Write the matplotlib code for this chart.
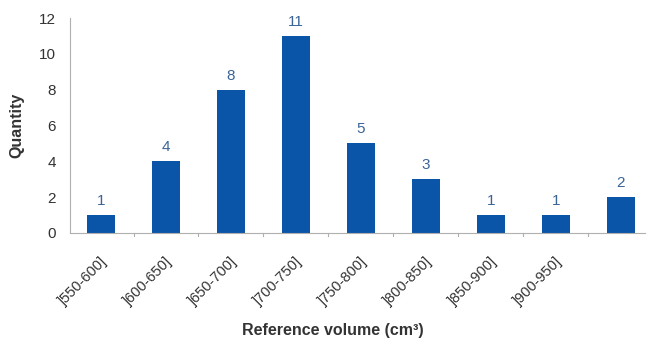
import matplotlib.pyplot as plt

# Histogram of reference volumes
categories = ["]550-600]", "]600-650]", "]650-700]", "]700-750]", "]750-800]",
              "]800-850]", "]850-900]", "]900-950]", ""]
quantities = [1, 4, 8, 11, 5, 3, 1, 1, 2]
yticks = [0, 2, 4, 6, 8, 10, 12]

BAR_COLOR = "#0b55a8"
LABEL_COLOR = "#3a6496"
TEXT_COLOR = "#333333"
AXIS_COLOR = "#b0b0b0"

plt.rcParams["font.family"] = ["Liberation Sans", "DejaVu Sans"]


def main():
    fig = plt.figure(figsize=(6.46, 3.38), dpi=100)
    ax = fig.add_axes([70 / 646, 105 / 338, 576 / 646, 215 / 338])

    x = list(range(len(categories)))
    bars = ax.bar(x, quantities, width=0.42, color=BAR_COLOR)

    for rect, q in zip(bars, quantities):
        ax.annotate(str(q), (rect.get_x() + rect.get_width() / 2, q),
                    xytext=(0, 5), textcoords="offset points",
                    ha="center", va="bottom", fontsize=11, color=LABEL_COLOR)

    ax.set_xlim(-0.477, 8.385)
    ax.set_ylim(0, 12)
    ax.set_yticks(yticks)
    ax.tick_params(axis="y", length=0, pad=10, labelsize=11, labelcolor=TEXT_COLOR)

    # category labels, rotated 45 degrees
    ax.set_xticks([])
    for i, cat in zip(x, categories):
        ax.annotate(cat, (i, 0), xytext=(3, -19), textcoords="offset points",
                    rotation=45, rotation_mode="anchor", ha="right", va="center",
                    fontsize=10.5, color=TEXT_COLOR, annotation_clip=False)

    # small ticks between categories
    for b in [0.5 + i for i in range(8)]:
        ax.plot([b, b], [0, -0.15], color=AXIS_COLOR, lw=0.8, clip_on=False)

    for side in ["top", "right"]:
        ax.spines[side].set_visible(False)
    ax.spines["left"].set_color(AXIS_COLOR)
    ax.spines["bottom"].set_color(AXIS_COLOR)
    ax.spines["left"].set_linewidth(0.8)
    ax.spines["bottom"].set_linewidth(0.8)

    fig.text(17 / 646, 1 - 125 / 338, "Quantity", rotation=90, ha="center", va="center",
             fontsize=11.5, fontweight="bold", color=TEXT_COLOR)
    fig.text(333 / 646, 1 - 331 / 338, "Reference volume (cm³)", ha="center", va="center",
             fontsize=11.5, fontweight="bold", color=TEXT_COLOR)

    fig.savefig("out.png", dpi=100)


main()
